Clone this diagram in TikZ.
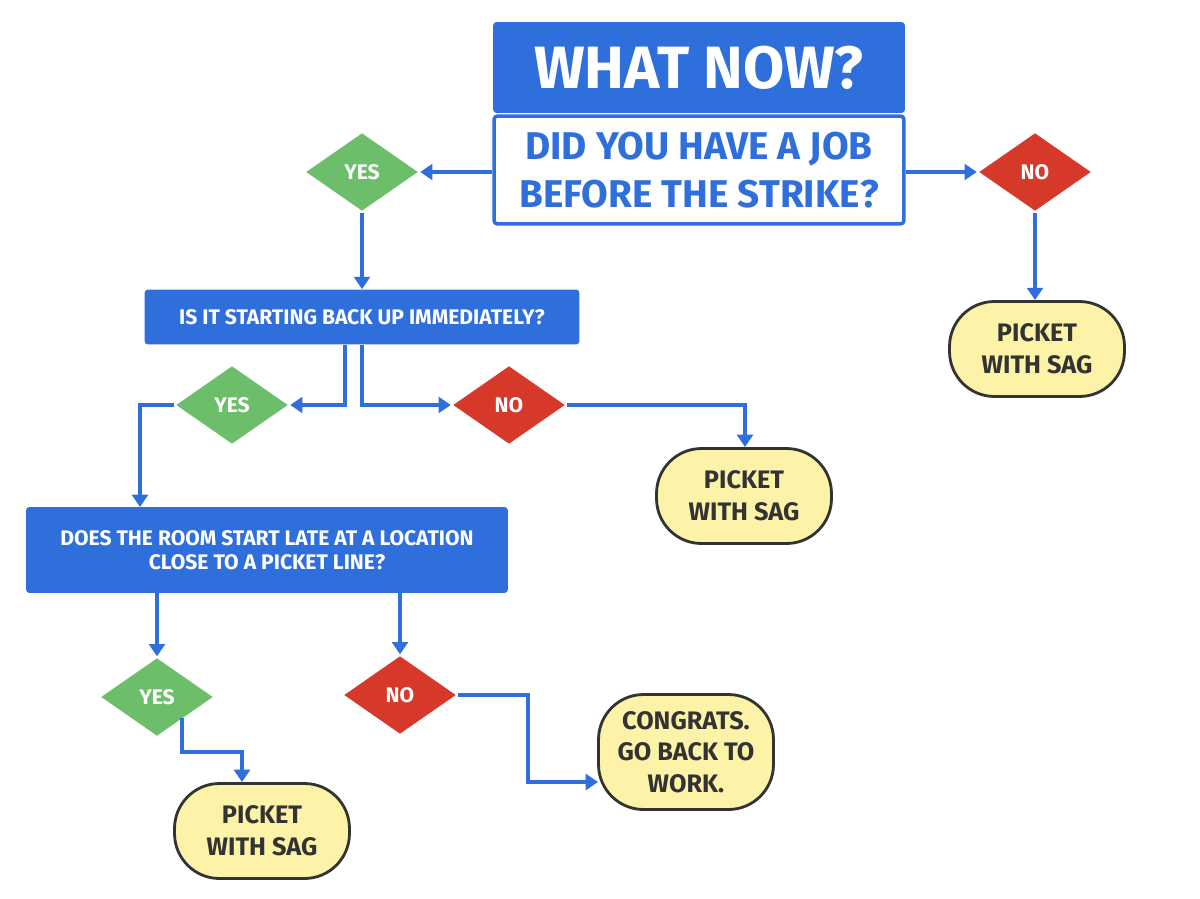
\documentclass[tikz,border=0pt]{standalone}
\usepackage{fontspec}
\setmainfont{Fira Sans}
\usetikzlibrary{shapes.geometric,arrows.meta}
\definecolor{blu}{HTML}{2F6FDC}
\definecolor{grn}{HTML}{6DBE6B}
\definecolor{rd}{HTML}{D6392A}
\definecolor{yel}{HTML}{FCF3A8}
\definecolor{drk}{HTML}{333333}
\begin{document}
\begin{tikzpicture}[x=0.02cm,y=-0.02cm,
  font=\bfseries,
  box/.style={rectangle,fill=blu,text=white,rounded corners=2pt,inner sep=0,align=center},
  dia/.style={diamond,minimum width=2.3cm,minimum height=1.6cm,inner sep=0,aspect=1.4,text=white,font=\bfseries\large,draw=white,line width=0.8pt},
  yes/.style={dia,fill=grn},
  no/.style={dia,fill=rd},
  pill/.style={rectangle,rounded corners=0.9cm,fill=yel,draw=drk,line width=1.6pt,minimum width=3.5cm,minimum height=1.9cm,align=center,font=\bfseries\Large,text=drk},
  arr/.style={draw=blu,line width=2.4pt,-{Triangle[length=7pt,width=9pt]}},
  ln/.style={draw=blu,line width=2.4pt}]
\useasboundingbox (0,0) rectangle (1200,899);
\node[box,minimum width=8.24cm,minimum height=1.82cm,font=\bfseries\fontsize{34}{38}\selectfont] (title) at (699,67.5) {WHAT NOW?};
\node[rectangle,draw=blu,line width=2pt,fill=white,rounded corners=2pt,minimum width=8.2cm,minimum height=2.16cm,align=center,text=blu,font=\bfseries\fontsize{22}{27}\selectfont] (q1) at (699,170) {DID YOU HAVE A JOB\\BEFORE THE STRIKE?};
\node[yes] (y1) at (362,172) {YES};
\node[no] (n1) at (1035,172) {NO};
\node[box,minimum width=8.7cm,minimum height=1.1cm,font=\bfseries\large] (q2) at (362,317) {IS IT STARTING BACK UP IMMEDIATELY?};
\node[pill] (p1) at (1037,349) {PICKET\\WITH SAG};
\node[yes] (y2) at (232,405) {YES};
\node[no] (n2) at (509,405) {NO};
\node[pill] (p2) at (744,496) {PICKET\\WITH SAG};
\node[box,minimum width=9.64cm,minimum height=1.72cm,font=\bfseries\large] (q3) at (267,550) {DOES THE ROOM START LATE AT A LOCATION\\CLOSE TO A PICKET LINE?};
\node[yes] (y3) at (157,697) {YES};
\node[no] (n3) at (400,695) {NO};
\node[pill] (p3) at (262,831) {PICKET\\WITH SAG};
\node[pill,minimum height=2.3cm] (c) at (686,752) {CONGRATS.\\GO BACK TO\\WORK.};
\coordinate (a) at (345,405);
\draw[arr] (q1.west|-y1) -- (y1.east);
\draw[arr] (q1.east|-n1) -- (n1.west);
\draw[arr] (y1.south) -- (q2.north-|y1);
\draw[arr] (n1.south) -- (n1.south|-p1.north);
\draw[arr] (345,345) -- (345,405) -- (y2.east);
\draw[arr] (362,345) -- (362,405) -- (n2.west);
\draw[arr] (n2.east) -- (745,405) -- (745,447);
\draw[arr] (y2.west) -- (140,405) -- (140,507);
\draw[arr] (157,593) -- (y3.north);
\draw[arr] (400,593) -- (n3.north);
\draw[arr] (182,718) -- (182,752) -- (242,752) -- (242,782);
\draw[arr] (n3.east) -- (528,695) -- (528,782) -- (598,782);
\end{tikzpicture}
\end{document}
